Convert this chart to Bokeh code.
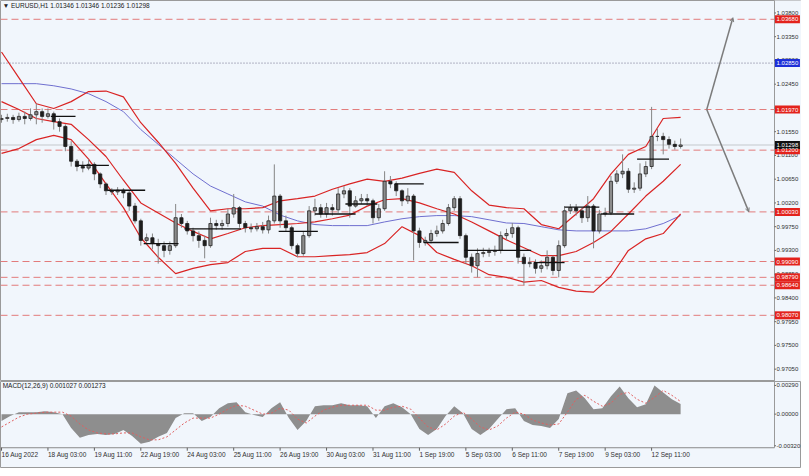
from bokeh.plotting import figure
from bokeh.layouts import column
from bokeh.models import Range1d, Arrow, OpenHead
from bokeh.core.properties import value
from bokeh.embed import file_html
from bokeh.resources import INLINE

# ---------------- data ----------------
symbol = "EURUSD,H1"
header_ohlc = [1.01346, 1.01346, 1.01236, 1.01298]

# 4-hour samples of the hourly chart (bar index, H1 bars from 16 Aug 19:00)
bar_x = list(range(0, 469, 4))
first_open = 1.0178
close = [1.0180, 1.0182, 1.0178, 1.0184, 1.0180, 1.0187, 1.0193, 1.0184, 1.0189, 1.0174,
         1.0165, 1.0127, 1.0099, 1.0089, 1.0086, 1.0093, 1.0075, 1.0056, 1.0043, 1.0041,
         1.0044, 1.0039, 1.0014, 0.9986, 0.9949, 0.9954, 0.9943, 0.9939, 0.9930, 0.9939,
         0.9992, 0.9981, 0.9967, 0.9958, 0.9949, 0.9939, 0.9981, 0.9977, 0.9981, 0.9999,
         1.0011, 0.9981, 0.9973, 0.9971, 0.9975, 0.9969, 0.9986, 1.0033, 0.9986, 0.9973,
         0.9939, 0.9924, 0.9958, 1.0005, 1.0011, 0.9999, 1.0011, 1.0007, 1.0037, 1.0043,
         1.0014, 1.0024, 1.0028, 1.0024, 0.9992, 1.0009, 1.0061, 1.0056, 1.0043, 1.0024,
         1.0033, 0.9967, 0.9945, 0.9949, 0.9962, 0.9967, 0.9981, 1.0011, 1.0028, 0.9958,
         0.9917, 0.9901, 0.9924, 0.9926, 0.9928, 0.9930, 0.9958, 0.9962, 0.9973, 0.9917,
         0.9905, 0.9907, 0.9896, 0.9901, 0.9917, 0.9892, 0.9939, 1.0005, 1.0011, 1.0005,
         0.9992, 1.0014, 0.9967, 0.9999, 1.0001, 1.0061, 1.0075, 1.0080, 1.0046, 1.0048,
         1.0075, 1.0089, 1.0146, 1.0146, 1.0140, 1.0131, 1.0127, 1.01298]
high = [1.0187, 1.0189, 1.0187, 1.0191, 1.0193, 1.0199, 1.0208, 1.0199, 1.0199, 1.0193,
        1.0180, 1.0169, 1.0137, 1.0103, 1.0099, 1.0103, 1.0097, 1.0078, 1.0059, 1.0048,
        1.0050, 1.0048, 1.0043, 1.0020, 0.9990, 0.9962, 0.9962, 0.9952, 0.9947, 0.9947,
        1.0018, 0.9999, 0.9986, 0.9973, 0.9966, 0.9958, 0.9992, 0.9988, 0.9988, 1.0009,
        1.0037, 1.0014, 0.9986, 0.9981, 0.9982, 0.9984, 0.9996, 1.0093, 1.0037, 0.9996,
        0.9977, 0.9943, 0.9966, 1.0014, 1.0028, 1.0018, 1.0020, 1.0018, 1.0048, 1.0052,
        1.0048, 1.0033, 1.0037, 1.0037, 1.0028, 1.0018, 1.0080, 1.0071, 1.0061, 1.0046,
        1.0048, 1.0037, 0.9973, 0.9956, 0.9969, 0.9977, 0.9988, 1.0018, 1.0033, 1.0033,
        0.9962, 0.9924, 0.9934, 0.9935, 0.9935, 0.9939, 0.9966, 0.9971, 0.9982, 0.9977,
        0.9924, 0.9917, 0.9913, 0.9911, 0.9930, 0.9920, 0.9949, 1.0014, 1.0018, 1.0018,
        1.0011, 1.0033, 1.0018, 1.0007, 1.0011, 1.0071, 1.0082, 1.0112, 1.0086, 1.0059,
        1.0095, 1.0099, 1.0202, 1.0161, 1.0153, 1.0146, 1.0138, 1.0142]
low = [1.0172, 1.0174, 1.0170, 1.0174, 1.0169, 1.0176, 1.0169, 1.0172, 1.0180, 1.0159,
       1.0155, 1.0118, 1.0089, 1.0080, 1.0078, 1.0082, 1.0063, 1.0048, 1.0035, 1.0035,
       1.0035, 1.0029, 1.0005, 0.9981, 0.9939, 0.9941, 0.9932, 0.9905, 0.9917, 0.9922,
       0.9935, 0.9973, 0.9960, 0.9947, 0.9935, 0.9915, 0.9935, 0.9969, 0.9969, 0.9975,
       0.9992, 0.9973, 0.9964, 0.9964, 0.9966, 0.9962, 0.9962, 0.9981, 0.9973, 0.9966,
       0.9932, 0.9917, 0.9920, 0.9954, 0.9996, 0.9992, 0.9992, 0.9996, 1.0001, 1.0029,
       0.9992, 1.0011, 1.0018, 1.0014, 0.9981, 0.9986, 1.0005, 1.0048, 1.0033, 1.0014,
       1.0018, 0.9911, 0.9935, 0.9939, 0.9943, 0.9956, 0.9962, 0.9977, 1.0005, 0.9952,
       0.9905, 0.9888, 0.9879, 0.9917, 0.9918, 0.9920, 0.9924, 0.9950, 0.9954, 0.9905,
       0.9864, 0.9898, 0.9886, 0.9888, 0.9894, 0.9883, 0.9879, 0.9935, 0.9999, 0.9996,
       0.9982, 0.9984, 0.9934, 0.9962, 0.9994, 0.9997, 1.0056, 1.0067, 1.0039, 1.0039,
       1.0043, 1.0069, 1.0084, 1.0137, 1.0112, 1.0123, 1.0121, 1.0123]

# Bollinger bands and blue moving average (sampled every 12 bars)
band_x = list(range(0, 469, 12))
bb_upper = [1.0306, 1.0257, 1.0208, 1.0199, 1.0212, 1.0231, 1.0232, 1.0221, 1.0172, 1.0135,
            1.0095, 1.0048, 1.0005, 1.0009, 1.0009, 1.0011, 1.0024, 1.0028, 1.0033, 1.0046,
            1.0056, 1.0065, 1.0061, 1.0067, 1.0076, 1.0084, 1.0078, 1.0043, 1.0016, 1.0011,
            1.0009, 0.9979, 0.9971, 0.9999, 1.0028, 1.0075, 1.0112, 1.0127, 1.0180, 1.0182]
bb_mid = [1.0212, 1.0197, 1.0180, 1.0174, 1.0169, 1.0140, 1.0108, 1.0063, 1.0020, 1.0001,
          0.9982, 0.9966, 0.9952, 0.9962, 0.9973, 0.9977, 0.9979, 0.9981, 0.9984, 0.9990,
          0.9997, 1.0014, 1.0026, 1.0028, 1.0020, 1.0009, 0.9999, 0.9984, 0.9967, 0.9950,
          0.9935, 0.9920, 0.9920, 0.9928, 0.9945, 0.9966, 0.9999, 1.0033, 1.0061, 1.0093]
bb_lower = [1.0114, 1.0123, 1.0140, 1.0148, 1.0140, 1.0103, 1.0056, 1.0011, 0.9954, 0.9917,
            0.9886, 0.9896, 0.9903, 0.9907, 0.9928, 0.9934, 0.9934, 0.9918, 0.9918, 0.9920,
            0.9922, 0.9926, 0.9943, 0.9975, 0.9958, 0.9926, 0.9913, 0.9901, 0.9884, 0.9879,
            0.9870, 0.9873, 0.9860, 0.9853, 0.9851, 0.9881, 0.9930, 0.9952, 0.9962, 0.9999]
ma_blue = [1.0246, 1.0246, 1.0246, 1.0242, 1.0236, 1.0227, 1.0212, 1.0193, 1.0159, 1.0131,
           1.0103, 1.0075, 1.0052, 1.0037, 1.0022, 1.0014, 0.9997, 0.9986, 0.9979, 0.9977,
           0.9977, 0.9977, 0.9984, 0.9990, 0.9994, 0.9996, 0.9996, 0.9994, 0.9988, 0.9982,
           0.9981, 0.9975, 0.9969, 0.9967, 0.9967, 0.9967, 0.9967, 0.9971, 0.9981, 0.9996]

# black level segments (bar from, bar to, price)
seg_start = [34, 51, 73, 98, 126, 191, 216, 237, 271, 291, 319, 367, 388, 413, 438]
seg_end = [51, 74, 99, 122, 165, 218, 244, 259, 291, 315, 365, 388, 412, 436, 460]
seg_price = [1.0184, 1.0091, 1.0044, 0.9943, 0.9971, 0.9966, 0.9999, 1.0018, 1.0056,
             0.9945, 0.9930, 0.9907, 1.0012, 0.9999, 1.0103]

# horizontal levels
red_levels = [1.0368, 1.0197, 1.0120, 1.0003, 0.9909, 0.9879, 0.9864, 0.9807]
blue_level = 1.0285
bid_price = 1.01298

# projection arrows (bar, price)
proj_from = (486, 1.0197)
proj_up_to = (504, 1.0371)
proj_down_to = (515, 1.0003)

# price axis ticks
price_ticks = [1.0380, 1.0335, 1.0290, 1.0245, 1.0200, 1.0155, 1.0110, 1.0065, 1.0020,
               0.9975, 0.9930, 0.9885, 0.9840, 0.9795, 0.9750, 0.9705]

# MACD (sampled every 6 bars)
macd_x = list(range(0, 469, 6))
macd_hist = [-0.0007, -0.0002, 0.0002, 0.0002, 0.0002, 0.0003, 0.0002, 0.0000, -0.0014, -0.0024,
             -0.0021, -0.0020, -0.0021, -0.0020, -0.0016, -0.0022, -0.0030, -0.0028, -0.0023, -0.0019,
             -0.0004, 0.0001, 0.0001, -0.0007, -0.0003, 0.0006, 0.0011, 0.0012, 0.0002, -0.0001,
             -0.0003, 0.0006, 0.0012, -0.0004, -0.0016, -0.0007, 0.0008, 0.0009, 0.0009, 0.0011,
             0.0009, 0.0009, 0.0008, -0.0004, 0.0008, 0.0011, 0.0007, 0.0000, -0.0015, -0.0021,
             -0.0015, -0.0002, 0.0008, 0.0001, -0.0015, -0.0021, -0.0015, -0.0005, 0.0005, 0.0006,
             -0.0007, -0.0011, -0.0012, -0.0014, -0.0005, 0.0021, 0.0024, 0.0016, 0.0005, 0.0006,
             0.0018, 0.0028, 0.0016, 0.0007, 0.0010, 0.0029, 0.0022, 0.0015, 0.001027]
macd_signal = [-0.0013, -0.0008, -0.0003, 0.0000, 0.0001, 0.0002, 0.0002, 0.0002, -0.0002, -0.0010,
               -0.0016, -0.0019, -0.0020, -0.0020, -0.0019, -0.0019, -0.0023, -0.0026, -0.0026, -0.0023,
               -0.0016, -0.0009, -0.0004, -0.0004, -0.0004, 0.0000, 0.0005, 0.0009, 0.0008, 0.0004,
               0.0000, 0.0001, 0.0006, 0.0004, -0.0005, -0.0009, -0.0002, 0.0004, 0.0007, 0.0009,
               0.0009, 0.0009, 0.0009, 0.0004, 0.0004, 0.0007, 0.0008, 0.0005, -0.0004, -0.0013,
               -0.0016, -0.0010, -0.0002, 0.0002, -0.0005, -0.0013, -0.0016, -0.0012, -0.0004, 0.0002,
               0.0000, -0.0006, -0.0009, -0.0011, -0.0010, 0.0002, 0.0015, 0.0019, 0.0013, 0.0008,
               0.0011, 0.0020, 0.0022, 0.0015, 0.0011, 0.0017, 0.0024, 0.0019, 0.001273]
macd_ticks = [0.0029, 0.0, -0.0032]

# time axis
date_ticks = list(range(0, 449, 32))
date_labels = ["16 Aug 2022", "18 Aug 03:00", "19 Aug 11:00", "22 Aug 19:00", "24 Aug 03:00",
               "25 Aug 11:00", "26 Aug 19:00", "30 Aug 03:00", "31 Aug 11:00", "1 Sep 19:00",
               "5 Sep 03:00", "6 Sep 11:00", "7 Sep 19:00", "9 Sep 03:00", "12 Sep 11:00"]

# ---------------- styling ----------------
W = 801
H_MAIN = 381
H_MACD = 87
BG = "#F1F6FC"
FONT = value("Liberation Sans")
FS = "6px"
X0, X1 = -0.7, 551.3   # visible bar range (1.45 px per bar)
AX = 532.7             # bar index where the price scale column starts
XR = Range1d(X0, X1)

p = figure(width=W, height=H_MAIN, x_range=XR, y_range=Range1d(0.96816, 1.04036),
           output_backend="svg", toolbar_location=None,
           x_axis_location=None, y_axis_location=None, min_border=0,
           background_fill_color=BG, border_fill_color=BG, outline_line_color="#9A9A9A")
p.grid.visible = False

# levels
p.segment(x0=X0, x1=AX, y0=red_levels, y1=red_levels, line_color="#E27B7B",
          line_width=1, line_dash="7 4")
p.segment(x0=X0, x1=AX, y0=blue_level, y1=blue_level, line_color="#6E6E8A",
          line_width=1, line_dash="1 2")
p.segment(x0=X0, x1=AX, y0=bid_price, y1=bid_price, line_color="#C4C8CC", line_width=1)

# bands and MA
p.line(band_x, ma_blue, line_color="#6F6FCF", line_width=1)
for band in (bb_upper, bb_mid, bb_lower):
    p.line(band_x, band, line_color="#D92424", line_width=1.2)

# candles
opens = [first_open] + close[:-1]
p.segment(x0=bar_x, x1=bar_x, y0=low, y1=high, line_color="#858585", line_width=1)
up_x = [x for x, o, c in zip(bar_x, opens, close) if c >= o]
up_o = [o for o, c in zip(opens, close) if c >= o]
up_c = [c for o, c in zip(opens, close) if c >= o]
dn_x = [x for x, o, c in zip(bar_x, opens, close) if c < o]
dn_o = [o for o, c in zip(opens, close) if c < o]
dn_c = [c for o, c in zip(opens, close) if c < o]
p.vbar(x=up_x, bottom=up_o, top=up_c, width=2.2, fill_color="#8C8C8C", line_color="#262626",
       line_width=0.8)
p.vbar(x=dn_x, bottom=dn_c, top=dn_o, width=2.2, fill_color="#1E1E1E", line_color="#1E1E1E",
       line_width=0.8)

# black level segments
p.segment(x0=seg_start, x1=seg_end, y0=seg_price, y1=seg_price, line_color="#111111",
          line_width=1.3)

# projection arrows
for end in (proj_up_to, proj_down_to):
    p.add_layout(Arrow(x_start=proj_from[0], y_start=proj_from[1], x_end=end[0], y_end=end[1],
                       line_color="#7C7C7C", line_width=1.5,
                       end=OpenHead(size=4, line_color="#7C7C7C", line_width=1)))

# header
header = "\u25BC " + symbol + "  " + " ".join(f"{v:.5f}" for v in header_ohlc)
p.text(x=[0.8], y=[1.0394], text=[header], text_font=FONT, text_font_size="6.5px",
       text_baseline="middle", text_color="#202020")

# price scale column
p.quad(left=AX, right=X1 + 5, bottom=0.96, top=1.05, fill_color=BG, line_color=None)
p.segment(x0=AX, x1=AX, y0=0.96, y1=1.05, line_color="#9A9A9A", line_width=1)
p.segment(x0=AX, x1=AX + 1.0, y0=price_ticks, y1=price_ticks, line_color="#606060")
p.text(x=AX + 1.4, y=price_ticks, text=[f"{t:.5f}" for t in price_ticks], text_font=FONT,
       text_font_size=FS, text_baseline="middle", text_color="#303030")
box_y = red_levels + [blue_level, bid_price]
box_c = ["#E3221C"] * len(red_levels) + ["#1E2FD8", "#111111"]
p.rect(x=AX + 8.9, y=box_y, width=25, height=8, width_units="screen", height_units="screen",
       fill_color=box_c, line_color=None)
p.text(x=AX + 1.4, y=box_y, text=[f"{v:.5f}" for v in box_y], text_font=FONT,
       text_font_size=FS, text_baseline="middle", text_color="#FFFFFF")

# ---------------- MACD pane ----------------
m = figure(width=W, height=H_MACD, x_range=XR, y_range=Range1d(-0.0055, 0.0033),
           output_backend="svg", toolbar_location=None,
           x_axis_location=None, y_axis_location=None, min_border=0,
           background_fill_color=BG, border_fill_color=BG, outline_line_color="#9A9A9A")
m.grid.visible = False
m.varea(x=macd_x, y1=0, y2=macd_hist, fill_color="#8E8E8E")
m.line(macd_x, macd_signal, line_color="#E06060", line_width=1, line_dash="2 2")
m.text(x=[0.8], y=[0.0029], text=["MACD(12,26,9) 0.001027 0.001273"], text_font=FONT,
       text_font_size="6.5px", text_baseline="middle", text_color="#202020")
# pane bottom and time scale
m.segment(x0=X0, x1=AX, y0=-0.0034, y1=-0.0034, line_color="#8A8A8A", line_width=1)
m.segment(x0=AX, x1=AX, y0=-0.0034, y1=0.0040, line_color="#9A9A9A", line_width=1)
m.segment(x0=AX, x1=AX + 1.0, y0=macd_ticks, y1=macd_ticks, line_color="#606060")
m.text(x=AX + 1.4, y=macd_ticks, text=[f"{t:.5f}" for t in macd_ticks], text_font=FONT,
       text_font_size=FS, text_baseline="middle", text_color="#303030")
m.segment(x0=date_ticks, x1=date_ticks, y0=-0.0034, y1=-0.0037, line_color="#606060")
m.text(x=date_ticks, y=-0.0041, text=date_labels, text_font=FONT, text_font_size="6.5px",
       text_align="left", text_baseline="middle", text_color="#303030")

layout = column(p, m, spacing=0)
open("out.html", "w").write(file_html(layout, INLINE))
